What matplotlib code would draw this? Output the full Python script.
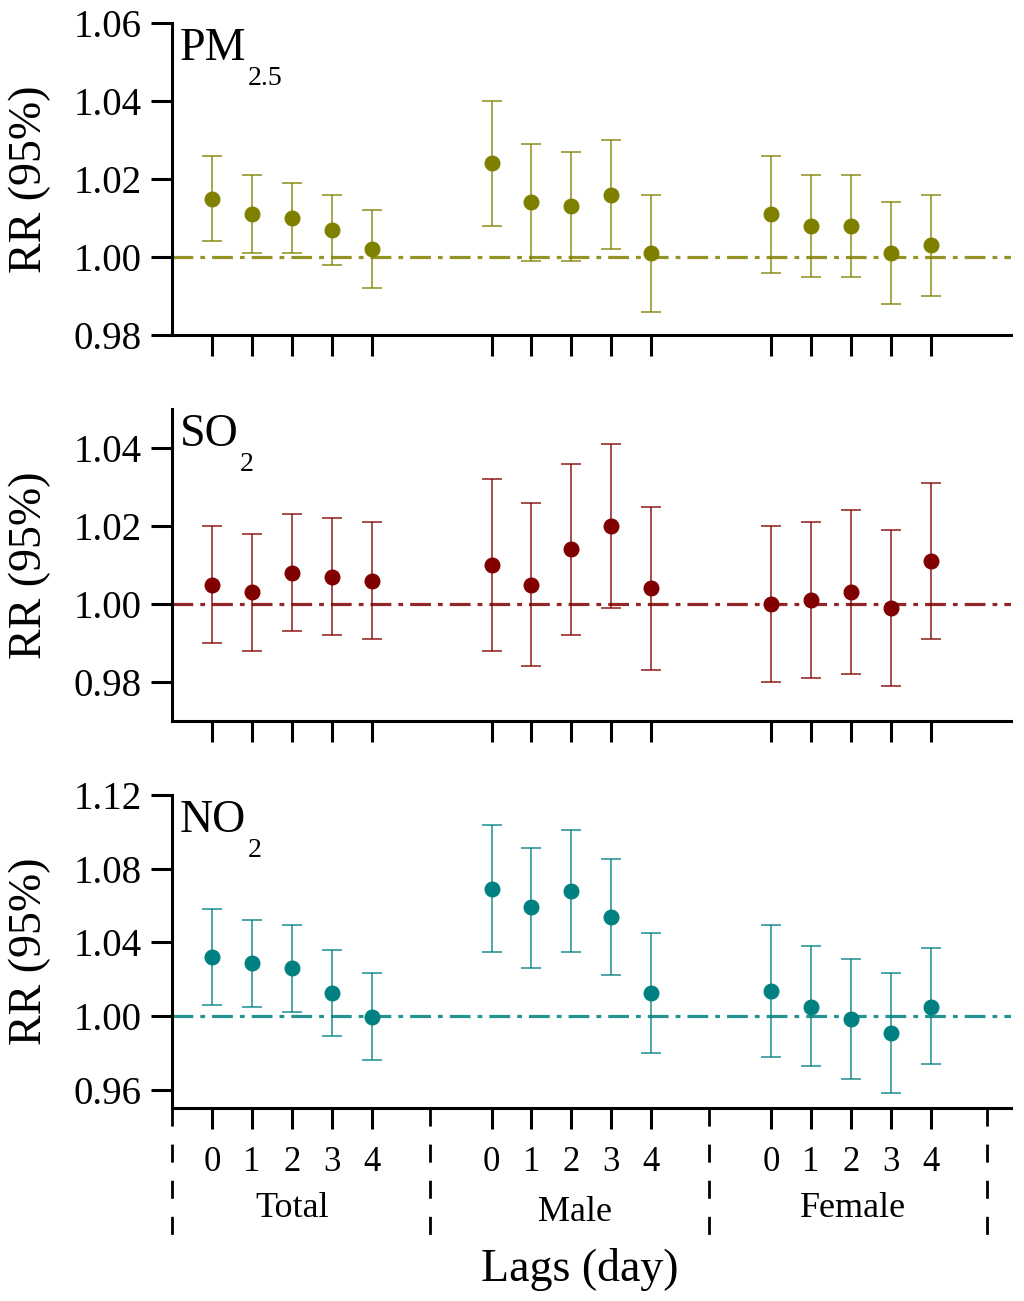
import numpy as np
import matplotlib
matplotlib.use('Agg')
import matplotlib.pyplot as plt
import matplotlib.transforms as mtransforms

plt.rcParams['font.family'] = ['Liberation Serif', 'DejaVu Serif']

groups = ['Total', 'Male', 'Female']
lags = [0, 1, 2, 3, 4]
group_start = [0, 7, 14]

# RR and 95% CI, order: Total lag0-4, Male lag0-4, Female lag0-4
pm_rr = [1.015, 1.011, 1.010, 1.007, 1.002,
         1.024, 1.014, 1.013, 1.016, 1.001,
         1.011, 1.008, 1.008, 1.001, 1.003]
pm_lo = [1.004, 1.001, 1.001, 0.998, 0.992,
         1.008, 0.999, 0.999, 1.002, 0.986,
         0.996, 0.995, 0.995, 0.988, 0.990]
pm_hi = [1.026, 1.021, 1.019, 1.016, 1.012,
         1.040, 1.029, 1.027, 1.030, 1.016,
         1.026, 1.021, 1.021, 1.014, 1.016]

so2_rr = [1.005, 1.003, 1.008, 1.007, 1.006,
          1.010, 1.005, 1.014, 1.020, 1.004,
          1.000, 1.001, 1.003, 0.999, 1.011]
so2_lo = [0.990, 0.988, 0.993, 0.992, 0.991,
          0.988, 0.984, 0.992, 0.999, 0.983,
          0.980, 0.981, 0.982, 0.979, 0.991]
so2_hi = [1.020, 1.018, 1.023, 1.022, 1.021,
          1.032, 1.026, 1.036, 1.041, 1.025,
          1.020, 1.021, 1.024, 1.019, 1.031]

no2_rr = [1.032, 1.029, 1.026, 1.0125, 0.9997,
          1.069, 1.059, 1.068, 1.054, 1.0125,
          1.0135, 1.005, 0.9986, 0.9906, 1.005]
no2_lo = [1.006, 1.005, 1.002, 0.989, 0.976,
          1.0345, 1.026, 1.035, 1.022, 0.980,
          0.978, 0.973, 0.966, 0.958, 0.974]
no2_hi = [1.058, 1.052, 1.0495, 1.036, 1.0235,
          1.104, 1.0915, 1.101, 1.085, 1.045,
          1.0495, 1.038, 1.031, 1.0235, 1.037]

panels = [
    ('PM', '2.5', '#808000', pm_rr, pm_lo, pm_hi, (0.98, 1.06), [0.98, 1.00, 1.02, 1.04, 1.06]),
    ('SO', '2', '#800000', so2_rr, so2_lo, so2_hi, (0.97, 1.05), [0.98, 1.00, 1.02, 1.04]),
    ('NO', '2', '#008080', no2_rr, no2_lo, no2_hi, (0.95, 1.12), [0.96, 1.00, 1.04, 1.08, 1.12]),
]

x = np.array([g + l for g in group_start for l in lags])

fig = plt.figure(figsize=(10.24, 13.01), dpi=100)
rects = [[0.168, 0.7425, 0.819, 0.2398],
         [0.168, 0.4458, 0.819, 0.2398],
         [0.168, 0.1483, 0.819, 0.2406]]

axes = []
for rect, (name, sub, col, rr, lo, hi, ylim, yt) in zip(rects, panels):
    ax = fig.add_axes(rect)
    axes.append(ax)
    rr = np.array(rr)
    err = np.vstack([rr - np.array(lo), np.array(hi) - rr])
    ax.axhline(1.0, color=col, lw=2.3, alpha=0.85,
               linestyle=(0, (6.5, 2.2, 1.5, 2.2)), zorder=1)
    ax.errorbar(x, rr, yerr=err, fmt='none', ecolor=col, elinewidth=1.4,
                capsize=7.5, capthick=1.4, alpha=0.7, zorder=2)
    ax.plot(x, rr, 'o', color=col, markersize=10.5, zorder=3)

    ax.set_xlim(-1, 20)
    ax.set_ylim(*ylim)
    ax.set_yticks(yt)
    ax.set_yticklabels(['%.2f' % v for v in yt])
    ax.set_xticks(x)
    ax.set_xticklabels([])
    for s in ['top', 'right']:
        ax.spines[s].set_visible(False)
    for s in ['left', 'bottom']:
        ax.spines[s].set_linewidth(2.2)
    ax.tick_params(axis='both', direction='out', length=15, width=2.2,
                   labelsize=28, pad=7)
    ax.set_ylabel('RR (95%)', fontsize=33)
    ax.yaxis.set_label_coords(-0.144, 0.5)

    t = ax.text(0.0095, 0.985, name, transform=ax.transAxes, fontsize=33,
                ha='left', va='top')
    ax.annotate(sub, xy=(1, 0), xycoords=t, xytext=(1, 3),
                textcoords='offset points', fontsize=20, ha='left', va='top')

# bottom panel: lag labels, group labels, separators
ax = axes[-1]
ax.set_xticklabels([str(l) for _ in groups for l in lags])
ax.tick_params(axis='x', labelsize=25, pad=12)
trans = mtransforms.blended_transform_factory(ax.transData, ax.transAxes)
for sx in [-1, 5.45, 12.45, 19.4]:
    ax.plot([sx, sx], [0, -0.42], transform=trans, color='black', lw=2.0,
            linestyle=(0, (6.5, 6.5)), clip_on=False)
group_x = [2.0, 9.1, 16.05]
group_y = [-0.32, -0.335, -0.32]
for gx, gy, g in zip(group_x, group_y, groups):
    ax.text(gx, gy, g, transform=trans, fontsize=26, ha='center', va='center')
ax.text(9.2, -0.515, 'Lags (day)', transform=trans, fontsize=33,
        ha='center', va='center')

fig.savefig('out.png', dpi=100)
